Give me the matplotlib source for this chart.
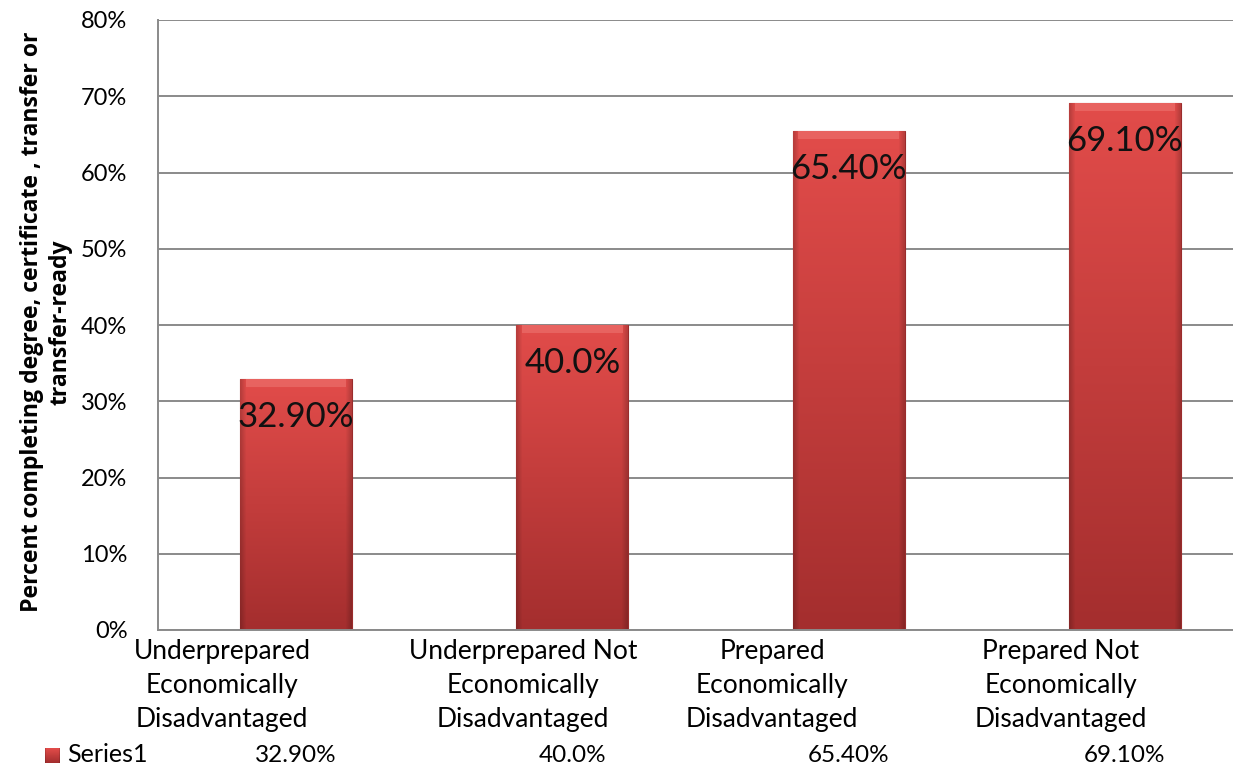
import numpy as np
import matplotlib
matplotlib.use("Agg")
import matplotlib.pyplot as plt
from matplotlib.patches import Rectangle
from matplotlib.transforms import blended_transform_factory

categories = [
    "Underprepared\nEconomically\nDisadvantaged",
    "Underprepared Not\nEconomically\nDisadvantaged",
    "Prepared\nEconomically\nDisadvantaged",
    "Prepared Not\nEconomically\nDisadvantaged",
]
values = [32.9, 40.0, 65.4, 69.1]
value_labels = ["32.90%", "40.0%", "65.40%", "69.10%"]
series_name = "Series1"
y_ticks = [0, 10, 20, 30, 40, 50, 60, 70, 80]
y_label = "Percent completing degree, certificate , transfer or\ntransfer-ready"

FONT = "Lato"
GRID = "#8a8a8a"
# category labels sit left of the bar centres in the original
LABEL_SHIFT = [-0.268, -0.179, -0.277, -0.231]


def bar_gradient(nx=60, ny=200):
    # vertical: lighter red at top, darker at bottom
    t = np.linspace(0, 1, ny)[:, None]
    top = np.array([226, 76, 74]) / 255
    bot = np.array([164, 46, 46]) / 255
    img = top[None, None, :] * (1 - t[..., None]) + bot[None, None, :] * t[..., None]
    img = np.repeat(img, nx, axis=1)
    # darker bevel on sides
    x = np.linspace(0, 1, nx)[None, :]
    edge = np.clip(np.minimum(x, 1 - x) / 0.05, 0, 1)
    img = img * (0.82 + 0.18 * edge)[..., None]
    return np.clip(img, 0, 1)


fig = plt.figure(figsize=(12.33, 7.77), dpi=100)
ax = fig.add_axes([158 / 1233, 147 / 777, 1105 / 1233, 610 / 777])

x = np.arange(len(categories))
bars = ax.bar(x, values, width=0.405, color="#c03a3a", zorder=2,
              edgecolor="#9a2c2c", linewidth=0.8)
grad = bar_gradient()
for b in bars:
    x0, w, h = b.get_x(), b.get_width(), b.get_height()
    im = ax.imshow(grad, extent=[x0, x0 + w, 0, h], aspect="auto",
                   zorder=2.5, interpolation="bilinear")
    im.set_clip_path(b)
    # light bevel strip on top
    ax.add_patch(Rectangle((x0 + w * 0.05, h - 1.0), w * 0.9, 1.0,
                           facecolor="#ea6a66", edgecolor="none",
                           zorder=2.6, alpha=0.8))

for xi, v, lab in zip(x, values, value_labels):
    ax.text(xi, v - 6.3, lab, ha="center", va="baseline", fontsize=25,
            family=FONT, color="#111111", zorder=4)

ax.set_xlim(-0.5, 3.5)
ax.set_ylim(0, 80)
ax.set_yticks(y_ticks)
ax.set_yticklabels([f"{t}%" for t in y_ticks], fontsize=17, family=FONT)
ax.yaxis.grid(True, color=GRID, linewidth=1.4, zorder=0)
ax.set_axisbelow(True)
for s in ["top", "right"]:
    ax.spines[s].set_visible(False)
for s in ["left", "bottom"]:
    ax.spines[s].set_color(GRID)
    ax.spines[s].set_linewidth(1.4)
ax.tick_params(axis="y", length=0, pad=22)
ax.set_xticks([])

trans = blended_transform_factory(ax.transData, ax.transAxes)
for xi, cat, sh in zip(x, categories, LABEL_SHIFT):
    ax.text(xi + sh, -0.015, cat, ha="center", va="top", fontsize=19,
            family=FONT, linespacing=1.45, transform=trans)

# data table row
for xi, lab in zip(x, value_labels):
    ax.text(xi, -0.205, lab, ha="center", va="center", fontsize=17.5,
            family=FONT, transform=trans)
fig.text(67 / 1233, 1 - 755 / 777, series_name, ha="left", va="center",
         fontsize=18, family=FONT)
key = fig.add_axes([45 / 1233, 1 - 763 / 777, 15 / 1233, 15 / 777])
key.imshow(bar_gradient(20, 20), aspect="auto")
key.axis("off")

fig.text(46 / 1233, 1 - 322 / 777, y_label, rotation=90, ha="center",
         va="center", fontsize=16.6, fontweight="bold", family="Open Sans",
         linespacing=1.25)

fig.savefig("out.png", dpi=100)
